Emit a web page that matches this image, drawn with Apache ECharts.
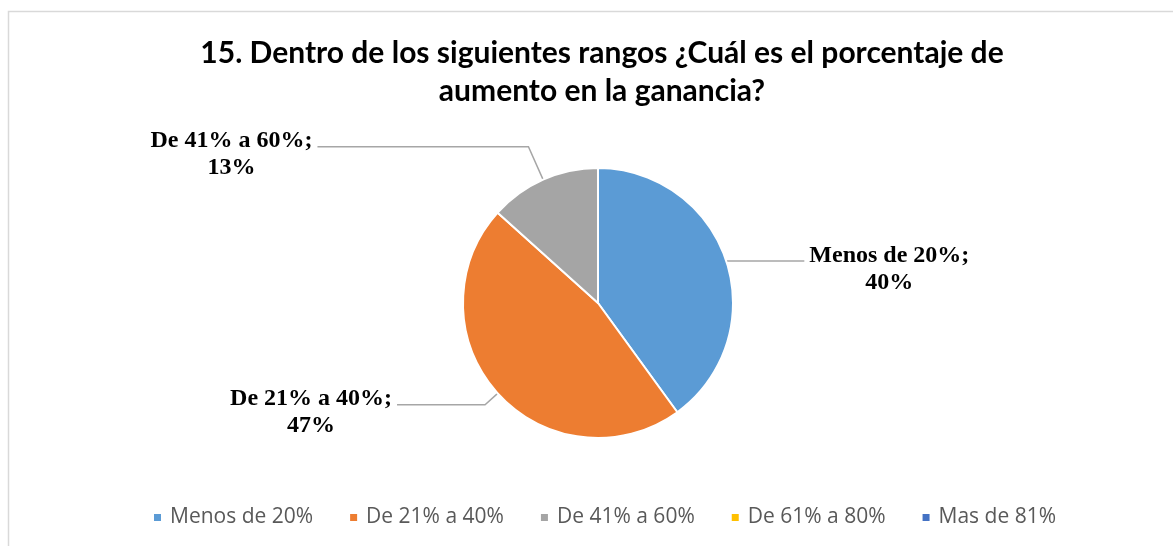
<!DOCTYPE html>
<html>
<head>
<meta charset="utf-8">
<script src="https://cdn.jsdelivr.net/npm/echarts@6/dist/echarts.min.js"></script>
<style>
  html, body { margin: 0; padding: 0; background: #fff; }
  #chart { width: 1173px; height: 546px; }
</style>
</head>
<body>
<div id="chart"></div>
<script>
// 数据
const categories = ['Menos de 20%', 'De 21% a 40%', 'De 41% a 60%', 'De 61% a 80%', 'Mas de 81%'];
const counts = [6, 7, 2, 0, 0];
const colors = ['#5B9BD5', '#ED7D31', '#A5A5A5', '#FFC000', '#4472C4'];
// leader line lengths (radial, horizontal) per slice
const leaderLen = [1, 17, 36, 10, 10];
const leaderLen2 = [77, 88, 211, 10, 10];

const chart = echarts.init(document.getElementById('chart'));

const pieData = categories.map((name, i) => ({
    name,
    value: counts[i],
    itemStyle: { color: colors[i] },
    label: { show: counts[i] > 0 },
    labelLine: { show: counts[i] > 0, length: leaderLen[i], length2: leaderLen2[i] }
}));

const option = {
    animation: false,
    backgroundColor: '#fff',
    graphic: [{
        type: 'rect',
        shape: { x: 8.5, y: 11.5, width: 1300, height: 700 },
        style: { fill: 'none', stroke: '#D9D9D9', lineWidth: 1.5 },
        silent: true
    }],
    title: {
        text: '15. Dentro de los siguientes rangos ¿Cuál es el porcentaje de\naumento en la ganancia?',
        left: 597,
        top: 29,
        textAlign: 'center',
        textStyle: {
            fontFamily: 'Lato',
            fontWeight: 'bold',
            fontSize: 30,
            lineHeight: 38,
            color: '#000'
        }
    },
    legend: {
        data: categories,
        left: 147,
        top: 502,
        icon: 'rect',
        itemWidth: 9,
        itemHeight: 9,
        itemGap: 35,
        selectedMode: false,
        textStyle: {
            fontFamily: 'Open Sans',
            fontSize: 21,
            color: '#595959',
            padding: [0, 0, 0, 3]
        }
    },
    series: [{
        type: 'pie',
        center: [598, 303],
        radius: 135,
        startAngle: 90,
        clockwise: true,
        avoidLabelOverlap: false,
        percentPrecision: 0,
        itemStyle: { borderColor: '#fff', borderWidth: 2 },
        label: {
            position: 'outer',
            formatter: '{t|{b};}\n{t|{d}%}',
            padding: [16, 0, 0, 0],
            rich: {
                t: {
                    fontFamily: 'Liberation Serif',
                    fontWeight: 'bold',
                    fontSize: 24,
                    lineHeight: 27,
                    color: '#000',
                    align: 'center'
                }
            }
        },
        labelLine: {
            lineStyle: { color: '#A6A6A6', width: 1.5 }
        },
        data: pieData
    }]
};

chart.setOption(option);
</script>
</body>
</html>
